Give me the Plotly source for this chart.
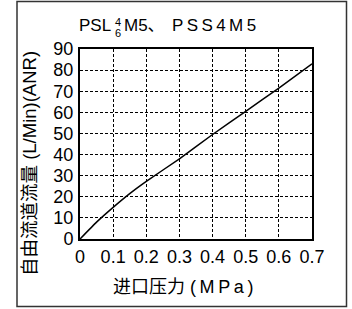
import plotly.graph_objects as go

# data
pressure = [0, 0.05, 0.1, 0.15, 0.2, 0.3, 0.4, 0.5, 0.6, 0.7]
flow = [0, 8.0, 15.0, 21.5, 27.3, 38.0, 49.5, 60.5, 71.5, 83.0]
x_ticks = [0, 0.1, 0.2, 0.3, 0.4, 0.5, 0.6, 0.7]
x_tick_labels = ["0", "0.1", "0.2", "0.3", "0.4", "0.5", "0.6", "0.7"]
y_ticks = [0, 10, 20, 30, 40, 50, 60, 70, 80, 90]

W, H = 352, 309
L, R, T, B = 80, 312, 49, 239

def px(x):
    return (x - L) / (R - L)

def py(y):
    return (B - y) / (B - T)

FONT = "Liberation Sans, Arial, Noto Sans CJK SC, sans-serif"
TS = "\u2009"

fig = go.Figure()
fig.add_trace(go.Scatter(x=pressure, y=flow, mode="lines",
                         line=dict(color="black", width=1.5, shape="spline", smoothing=0.4),
                         hoverinfo="skip", showlegend=False))

axis_common = dict(showline=True, linecolor="black", linewidth=2, mirror=True,
                   showgrid=True, gridcolor="black", gridwidth=1, griddash="3px,2px",
                   zeroline=False, ticks="", tickfont=dict(family=FONT, size=18, color="black"))

fig.update_xaxes(range=[0, 0.7], tickvals=x_ticks, ticktext=x_tick_labels, ticklabelstandoff=0, **axis_common)
fig.update_yaxes(range=[0, 90], tickvals=y_ticks, ticklabelstandoff=1, **axis_common)

ann = []
# title pieces
ann.append(dict(x=px(112), y=py(25), text="PSL", xanchor="right", yanchor="middle",
                font=dict(family=FONT, size=17, color="black")))
ann.append(dict(x=px(117.5), y=py(22), text="4", xanchor="center", yanchor="middle",
                font=dict(family=FONT, size=11, color="black")))
ann.append(dict(x=px(117.5), y=py(33), text="6", xanchor="center", yanchor="middle",
                font=dict(family=FONT, size=11, color="black")))
ann.append(dict(x=px(123), y=py(25), text="M5、", xanchor="left", yanchor="middle",
                font=dict(family=FONT, size=17, color="black")))
ann.append(dict(x=px(171), y=py(25), text=TS.join("PSS4M5"), xanchor="left", yanchor="middle",
                font=dict(family=FONT, size=17, color="black")))
# x title
ann.append(dict(x=px(183), y=py(287), text="进口压力 " + TS.join("(MPa)"), xanchor="center", yanchor="middle",
                font=dict(family=FONT, size=18, color="black")))
# y title
ann.append(dict(x=px(29), y=py(164), text="自由流道流量 (L/Min)(ANR)", textangle=-90,
                xanchor="center", yanchor="middle",
                font=dict(family=FONT, size=18.5, color="black")))
for a in ann:
    a.update(xref="paper", yref="paper", showarrow=False, borderpad=0)

fig.update_layout(
    width=W, height=H,
    margin=dict(l=L, r=W - R, t=T, b=H - B, autoexpand=False),
    paper_bgcolor="white", plot_bgcolor="white",
    annotations=ann,
    shapes=[dict(type="rect", xref="paper", yref="paper",
                 x0=px(17), x1=px(346.5), y0=py(306.5), y1=py(1.5),
                 line=dict(color="#333333", width=1.5), layer="above")],
)

fig.write_html("out.html", config={"displayModeBar": False},
               post_script="document.body.style.margin='0';document.body.style.overflow='hidden';")
